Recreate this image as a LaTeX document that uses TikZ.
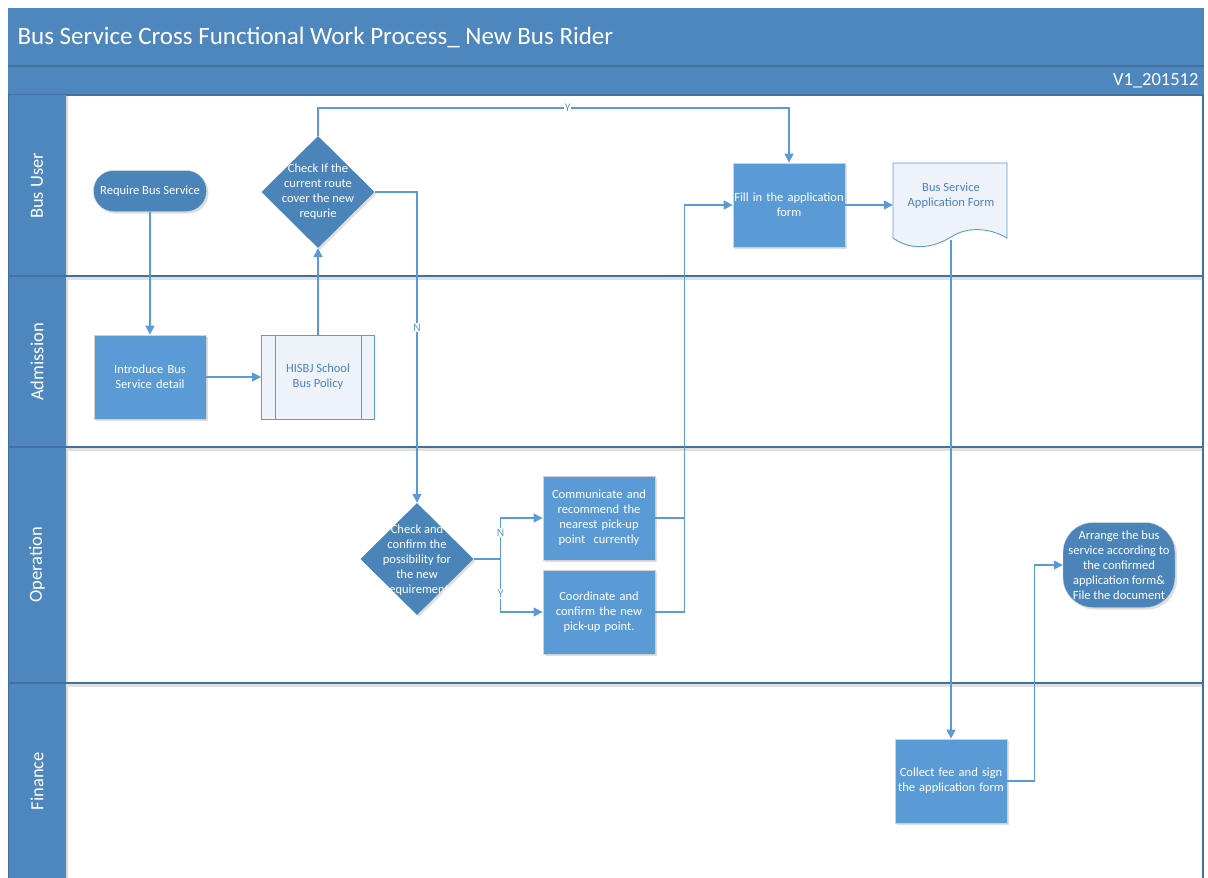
\documentclass[tikz,border=0pt]{standalone}
\usepackage{fontspec}
\setmainfont{Carlito}
\usetikzlibrary{shapes.geometric,shapes.misc,arrows.meta,shadows}
\definecolor{hdr}{HTML}{4E87BD}
\definecolor{sep}{HTML}{41719C}
\definecolor{dnode}{HTML}{4A84B8}
\definecolor{lnode}{HTML}{5B9BD5}
\definecolor{ln}{HTML}{5B9BD5}
\definecolor{ltxt}{HTML}{4F81BD}
\definecolor{lfill}{HTML}{EEF3FA}
\hyphenpenalty=10000
\begin{document}
\begin{tikzpicture}[x=1pt,y=-1pt,
  every node/.style={font=\fontsize{12.5}{15}\selectfont, align=center},
  shd/.style={drop shadow={opacity=0.25, shadow xshift=2pt, shadow yshift=-2pt}},
  proc/.style={rectangle, fill=lnode, draw=black!18, line width=0.8pt, text=white,
    minimum width=112pt, minimum height=84pt, inner sep=1pt, text width=110pt, shd},
  decision/.style={diamond, fill=dnode, minimum width=113pt, minimum height=112pt, inner sep=0pt, shd},
  dtext/.style={text=white, align=center},
  term/.style={rectangle, fill=dnode, draw=black!15, text=white, shd},
  conn/.style={draw=ln, line width=1.4pt, -{Triangle[length=9pt,width=9pt]}},
  wire/.style={draw=ln, line width=1.4pt},
  lbl/.style={fill=white, text=ln, inner sep=1pt, font=\fontsize{11.5}{13}\selectfont},
  lane/.style={text=white, rotate=90, font=\fontsize{18.5}{22}\selectfont},
  seprule/.style={draw=sep, line width=2pt}
]
\useasboundingbox (0,0) rectangle (1208,878);
\fill[white] (0,0) rectangle (1208,878);
% header bars
\fill[hdr] (8,8) rectangle (1204,95);
\draw[seprule] (8,66) -- (1204,66);
\draw[seprule] (8,95) -- (1204,95);
\node[anchor=west, text=white, font=\fontsize{25}{30}\selectfont] (title) at (14,37) {Bus Service Cross Functional Work Process\_ New Bus Rider};
\node[anchor=east, text=white, font=\fontsize{18.5}{22}\selectfont] (ver) at (1202,81) {V1\_201512};
% lane label column
\fill[hdr] (8,95) rectangle (66,878);
\draw[black!15, line width=2pt] (67,96) -- (67,878);
% lane separators with soft shadow
\foreach \yy in {276,447,683}{
  \draw[black!12, line width=3pt] (66,\yy+2.5) -- (1203,\yy+2.5);
  \draw[seprule] (8,\yy) -- (1204,\yy);
}
\draw[seprule] (1203,95) -- (1203,878);
\draw[sep, line width=1pt] (8,95) -- (8,878);
% lane labels
\node[lane] (l1) at (37,186) {Bus User};
\node[lane] (l2) at (37,362) {Admission};
\node[lane] (l3) at (37,565) {Operation};
\node[lane] (l4) at (37,781) {Finance};

% nodes
\node[term, rounded corners=20pt, minimum width=113pt, minimum height=41pt] (req) at (150,191) {Require Bus Service};
\node[decision] (d1) at (318,192) {};
\node[dtext] (d1t) at (318,192) {Check If the\\current route\\cover the new\\requrie};
\node[proc] (fill) at (789,205) {Fill in the application\\form};
\node[inner sep=0pt, minimum width=114pt, minimum height=76pt] (doc) at (950,201) {};
\fill[lfill] (893,163) -- (1007,163) -- (1007,238) .. controls (990,228) and (968,226) .. (951,237) .. controls (935,247) and (912,252) .. (893,238) -- cycle;
\draw[draw=ln, line width=0.9pt] (893,163) -- (1007,163) -- (1007,238) .. controls (990,228) and (968,226) .. (951,237) .. controls (935,247) and (912,252) .. (893,238) -- cycle;
\node[text=ltxt] (doct) at (951,196) {Bus Service\\Application Form};
\coordinate (docb) at (951,240);

\node[proc] (intro) at (150,377) {Introduce Bus\\Service detail};
\node[rectangle, fill=lfill, draw=ln, line width=0.9pt, minimum width=113pt, minimum height=84pt, text=ltxt] (pol) at (318,377) {HISBJ School\\Bus Policy};
\draw[ln, line width=0.9pt] ([xshift=14pt]pol.north west) -- ([xshift=14pt]pol.south west);
\draw[ln, line width=0.9pt] ([xshift=-14pt]pol.north east) -- ([xshift=-14pt]pol.south east);

\node[decision] (d2) at (417,559) {};
\node[dtext] (d2t) at (417,560) {Check and\\confirm the\\possibility for\\the new\\requirement};
\node[proc] (comm) at (599,518) {Communicate and\\recommend the\\nearest pick-up\\point\ \ currently};
\node[proc] (coord) at (599,612) {Coordinate and\\confirm the new\\pick-up point.};
\node[term, rounded corners=30pt, minimum width=112pt, minimum height=85pt, inner sep=0pt] (arr) at (1119,565) {Arrange the bus\\service according to\\the confirmed\\application form\&\\File the document};
\node[proc] (coll) at (951,781) {Collect fee and sign\\the application form};

% connectors
\draw[conn] (req) -- (intro);
\draw[conn] (intro) -- (pol);
\draw[conn] (pol.north) -- (d1.south);
\draw[conn] (d1.north) -- (d1.north |- 0,108) -| node[lbl, pos=0.265] {Y} (fill.north);
\draw[conn] (d1.east) -| node[lbl, pos=0.718] {N} (d2.north);
\draw[wire] (d2.east) -- ++(27,0) coordinate (j);
\draw[conn] (j) |- node[lbl, pos=0.32] {N} (comm.west);
\draw[conn] (j) |- node[lbl, pos=0.33] {Y} (coord.west);
\draw[wire] (comm.east) -- ++(29,0) coordinate (k);
\draw[wire] (coord.east) -| (k);
\draw[conn] (k) |- (fill.west);
\draw[conn] (fill) -- (fill.east -| doc.west);
\draw[conn] (docb) -- (coll.north);
\draw[conn] (coll.east) -- ++(27,0) |- (arr.west);
\end{tikzpicture}
\end{document}
